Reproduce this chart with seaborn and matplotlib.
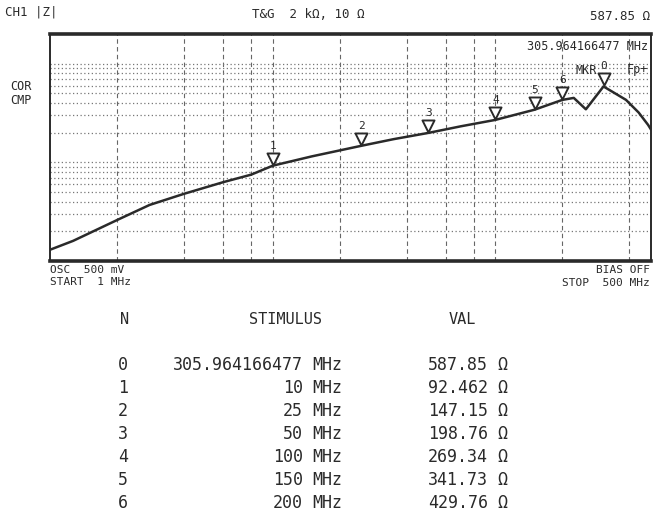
import matplotlib
matplotlib.use("Agg")
import matplotlib.pyplot as plt
import matplotlib.transforms as mtrans
import pandas as pd
import seaborn as sns

# trace (MHz, ohm)
trace_freq = [1, 1.27, 2, 2.8, 4, 6, 8, 10, 15, 25, 35, 50, 70, 100, 150, 200,
              225, 255, 305.964166477, 386, 440, 485, 500]
trace_z = [13, 16, 26, 37, 48, 63, 75, 92.462, 115, 147.15, 172, 198.76, 232,
           269.34, 341.73, 429.76, 450, 345, 587.85, 430, 320, 240, 215]

# marker table
mkr_n = [0, 1, 2, 3, 4, 5, 6]
mkr_freq = [305.964166477, 10, 25, 50, 100, 150, 200]
mkr_freq_txt = ["305.964166477", "10", "25", "50", "100", "150", "200"]
mkr_val = [587.85, 92.462, 147.15, 198.76, 269.34, 341.73, 429.76]
mkr_val_txt = ["587.85", "92.462", "147.15", "198.76", "269.34", "341.73", "429.76"]

grid_freq = [2, 4, 6, 8, 10, 20, 40, 60, 80, 100, 200, 400]
grid_z = [20, 30, 40, 50, 60, 70, 80, 90, 100, 200, 300, 400, 500, 600, 700,
          800, 900, 1000]


def main():
    sns.set_style("white")
    plt.rcParams["font.family"] = ["DejaVu Sans Mono", "DejaVu Sans"]
    ink = "#2a2a2a"

    W, H = 655, 519
    fig = plt.figure(figsize=(W / 100, H / 100), dpi=100)
    ax = fig.add_axes([50 / W, 1 - 261 / H, 601 / W, 227 / H])

    trace = pd.DataFrame({"freq": trace_freq, "z": trace_z})
    sns.lineplot(data=trace, x="freq", y="z", ax=ax, color=ink, lw=1.8,
                 sort=False)
    ax.set_xscale("log")
    ax.set_yscale("log")
    ax.set_xlim(1, 500)
    ax.set_ylim(10, 2000)

    for f in grid_freq:
        ax.axvline(f, color="#666666", lw=0.8, ls=(0, (4, 3)), zorder=0)
    for v in grid_z:
        ax.axhline(v, color="#777777", lw=0.9, ls=(0, (1, 2)), zorder=0)

    # markers: open triangles with their tip on the trace
    tri = mtrans.offset_copy(ax.transData, fig=fig, x=0, y=7, units="dots")
    mk = pd.DataFrame({"freq": mkr_freq, "z": mkr_val})
    sns.scatterplot(data=mk, x="freq", y="z", ax=ax, marker="v", s=75,
                    facecolor="white", edgecolor=ink, linewidth=1.4,
                    transform=tri, zorder=5, legend=False)
    for n, f, v in zip(mkr_n, mkr_freq, mkr_val):
        lab = mtrans.offset_copy(ax.transData, fig=fig, x=0, y=15, units="dots")
        ax.text(f, v, str(n), transform=lab, ha="center", va="bottom",
                fontsize=8, color=ink, zorder=6)

    ax.set_xticks([])
    ax.set_yticks([])
    ax.minorticks_off()
    ax.set_xlabel("")
    ax.set_ylabel("")
    for side in ["top", "bottom"]:
        ax.spines[side].set_linewidth(2.6)
    for side in ["left", "right"]:
        ax.spines[side].set_linewidth(1.4)
    for sp in ax.spines.values():
        sp.set_color(ink)

    def px(x, y, s, size=9, ha="left", **kw):
        fig.text(x / W, 1 - y / H, s, fontsize=size, ha=ha, va="center",
                 color=ink, **kw)

    # screen annotations
    px(5, 12, "CH1 |Z|")
    px(252, 14, "T&G  2 kΩ, 10 Ω")
    px(650, 16, "587.85 Ω", ha="right")
    px(648, 47, "305.964166477 MHz", size=8.5, ha="right")
    px(597, 70, "MKR", size=8.5, ha="right")
    px(648, 70, "Fp+", size=8.5, ha="right")
    px(10, 86, "COR", size=8.5)
    px(10, 100, "CMP", size=8.5)
    px(50, 270, "OSC  500 mV", size=8)
    px(50, 282, "START  1 MHz", size=8)
    px(650, 270, "BIAS OFF", size=8, ha="right")
    px(650, 283, "STOP  500 MHz", size=8, ha="right")

    # marker list below the screen
    px(125, 320, "N", size=11, ha="center")
    px(285, 320, "STIMULUS", size=11, ha="center")
    px(462, 320, "VAL", size=11, ha="center")
    y0, dy = 365, 23
    for i, (n, ft, vt) in enumerate(zip(mkr_n, mkr_freq_txt, mkr_val_txt)):
        y = y0 + i * dy
        px(123, y, str(n), size=12, ha="center")
        px(303, y, ft, size=12, ha="right")
        px(312, y, "MHz", size=12)
        px(488, y, vt, size=12, ha="right")
        px(497, y, "Ω", size=12)

    fig.savefig("out.png", dpi=100, facecolor="white")


if __name__ == "__main__":
    main()
